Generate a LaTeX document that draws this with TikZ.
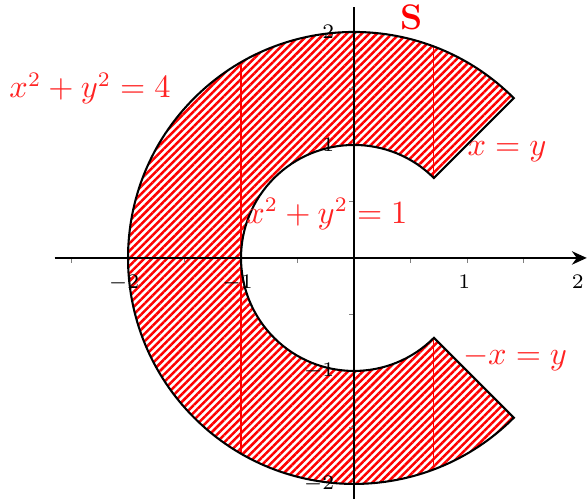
\documentclass[tikz,border=0pt]{standalone}
\usetikzlibrary{patterns.meta,arrows.meta}
\definecolor{lab}{RGB}{255,35,35}
\begin{document}
\begin{tikzpicture}[x=1.342cm,y=1.342cm,
  hatch/.style={pattern={Lines[angle=45,distance=1.8pt,line width=0.85pt]},pattern color=red},
  redline/.style={red,line width=0.35pt},
  axisline/.style={black,line width=0.85pt},
  tickmark/.style={gray,line width=0.3pt},
  ticklabel/.style={font=\scriptsize,inner sep=0pt},
  eqlabel/.style={lab,inner sep=0pt,font=\fontsize{10.5}{12}\selectfont}]
\useasboundingbox (-3.133,-2.150) rectangle (2.062,2.283);
% hatched region
\path[hatch] (45:2) arc[start angle=45,end angle=315,radius=2] -- (315:1) arc[start angle=315,end angle=45,radius=1] -- cycle;
% vertical red lines
\draw[redline] (-1,-1.7321) -- (-1,1.7321);
\draw[redline] (0,1) -- (0,2);
\draw[redline] (0,-1) -- (0,-2);
\draw[redline] (0.7071,0.7071) -- (0.7071,1.8708);
\draw[redline] (0.7071,-0.7071) -- (0.7071,-1.8708);
% ticks
\foreach \t in {-2.5,-2,-1.5,-1,-0.5,0.5,1,1.5}
  \draw[tickmark] (\t,0) -- (\t,-0.045);
\foreach \t in {-1.5,-0.5,0.5,1.5}
  \draw[tickmark] (0,\t) -- (-0.045,\t);
% axes
\coordinate (xs) at (-2.65,0);
\coordinate (xe) at (2.06,0);
\coordinate (ys) at (0,-2.13);
\coordinate (ye) at (0,2.22);
\draw[axisline,-{Stealth[length=5pt,width=4.5pt]}] (xs) -- (xe);
\draw[axisline] (ys) -- (ye);
% boundary
\draw[black,line width=0.7pt] (45:2) arc[start angle=45,end angle=315,radius=2] -- (315:1) arc[start angle=315,end angle=45,radius=1] -- cycle;
% tick labels
\node[ticklabel,anchor=north] (lxm2) at (-2.035,-0.15) {$-2$};
\node[ticklabel,anchor=north] (lxm1) at (-1.03,-0.15) {$-1$};
\node[ticklabel,anchor=north] (lx1) at (0.975,-0.15) {$1$};
\node[ticklabel,anchor=north] (lx2) at (1.98,-0.15) {$2$};
\node[ticklabel,anchor=east] (ly2) at (-0.17,2.0) {$2$};
\node[ticklabel,anchor=east] (ly1) at (-0.17,1.0) {$1$};
\node[ticklabel,anchor=east] (lym1) at (-0.17,-1.0) {$-1$};
\node[ticklabel,anchor=east] (lym2) at (-0.17,-2.0) {$-2$};
% equation labels
\node[eqlabel] (c4) at (-2.336,1.50) {$x^2+y^2=4$};
\node[eqlabel] (c1) at (-0.24,0.39) {$x^2+y^2=1$};
\node[eqlabel] (l1) at (1.354,0.94) {$x=y$};
\node[eqlabel] (l2) at (1.425,-0.89) {$-x=y$};
\node[red,inner sep=0pt,font=\large\bfseries] (S) at (0.513,2.13) {S};
\end{tikzpicture}
\end{document}
